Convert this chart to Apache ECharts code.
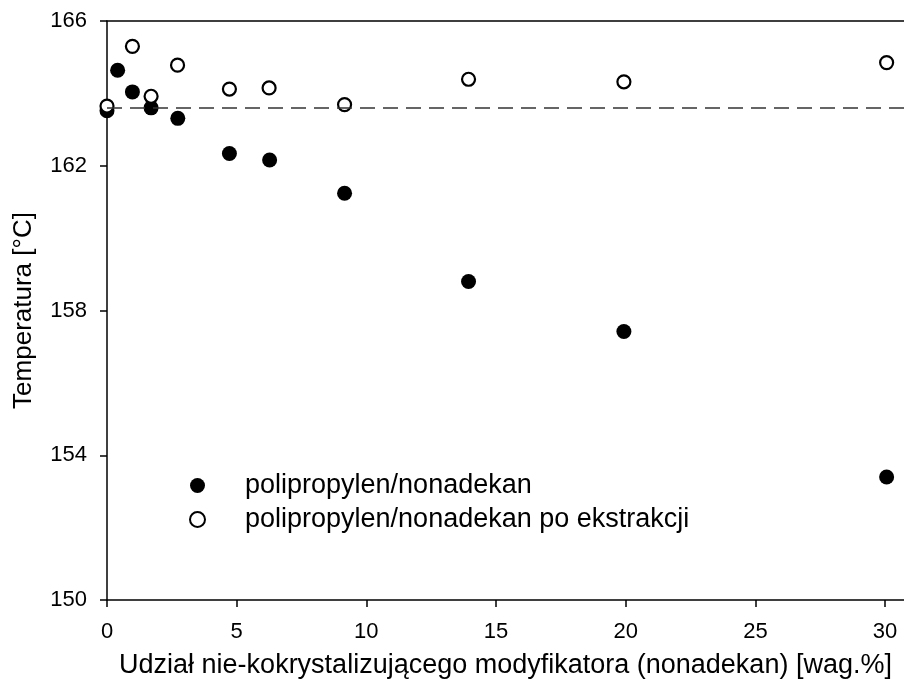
<!DOCTYPE html>
<html>
<head>
<meta charset="utf-8">
<script src="https://cdn.jsdelivr.net/npm/echarts@6/dist/echarts.min.js"></script>
<style>html,body{margin:0;padding:0;background:#fff}#c{width:904px;height:684px}</style>
</head>
<body>
<div id="c"></div>
<script>
const seriesNames = ['polipropylen/nonadekan', 'polipropylen/nonadekan po ekstrakcji'];
const xFilled = [0, 0.41, 0.98, 1.70, 2.73, 4.72, 6.27, 9.16, 13.94, 19.93, 30.06];
const yFilled = [163.52, 164.64, 164.04, 163.60, 163.31, 162.34, 162.16, 161.24, 158.80, 157.42, 153.40];
const xOpen = [0, 0.98, 1.70, 2.72, 4.72, 6.25, 9.16, 13.94, 19.93, 30.06];
const yOpen = [163.65, 165.30, 163.92, 164.78, 164.12, 164.15, 163.69, 164.39, 164.32, 164.85];
const xTicks = [0, 5, 10, 15, 20, 25, 30];
const yTicks = [150, 154, 158, 162, 166];
const refLine = 163.6;
const xTitle = 'Udział nie-kokrystalizującego modyfikatora (nonadekan) [wag.%]';
const yTitle = 'Temperatura [°C]';

const FONT = 'Liberation Sans, Arial, sans-serif';
const chart = echarts.init(document.getElementById('c'), null, {renderer: 'canvas'});
const zip = (xs, ys) => xs.map((x, i) => [x, ys[i]]);

chart.setOption({
  animation: false,
  backgroundColor: '#fff',
  grid: {left: 107, right: 0, top: 21, bottom: 83, containLabel: false},
  legend: {
    orient: 'vertical', left: 184, top: 467, itemWidth: 15, itemHeight: 15, itemGap: 7,
    data: seriesNames,
    textStyle: {fontFamily: FONT, fontSize: 27, color: '#000', padding: [0, 0, 0, 35]}
  },
  xAxis: [{
    type: 'value', min: 0, max: 30.73, interval: 5,
    name: xTitle, nameLocation: 'middle', nameGap: 52,
    nameTextStyle: {fontFamily: FONT, fontSize: 27, color: '#000'},
    axisLine: {show: true, lineStyle: {color: '#000', width: 1.5}},
    axisTick: {show: true, inside: false, length: 7, lineStyle: {color: '#000', width: 1.5}, customValues: xTicks},
    axisLabel: {fontFamily: FONT, fontSize: 22, color: '#000', margin: 21, customValues: xTicks},
    splitLine: {show: false}
  }, {
    type: 'value', position: 'top', min: 0, max: 30.73,
    axisLine: {show: true, lineStyle: {color: '#000', width: 1.5}},
    axisTick: {show: false}, axisLabel: {show: false}, splitLine: {show: false}
  }],
  yAxis: {
    type: 'value', min: 150, max: 166, interval: 4,
    name: yTitle, nameLocation: 'middle', nameGap: 70, nameRotate: 90,
    nameTextStyle: {fontFamily: FONT, fontSize: 26, color: '#000'},
    axisLine: {show: true, lineStyle: {color: '#000', width: 1.5}},
    axisTick: {show: true, inside: false, length: 7, lineStyle: {color: '#000', width: 1.5}, customValues: yTicks},
    axisLabel: {fontFamily: FONT, fontSize: 22, color: '#000', margin: 20, customValues: yTicks},
    splitLine: {show: false}
  },
  series: [{
    name: seriesNames[0], type: 'scatter', symbol: 'circle', symbolSize: 15,
    data: zip(xFilled, yFilled),
    itemStyle: {color: '#000', opacity: 1},
    z: 3,
    markLine: {
      silent: true, symbol: 'none', label: {show: false},
      lineStyle: {color: '#333', width: 1.5, type: [15, 8]},
      data: [{yAxis: refLine}]
    }
  }, {
    name: seriesNames[1], type: 'scatter', symbol: 'circle', symbolSize: 13,
    data: zip(xOpen, yOpen),
    itemStyle: {color: '#fff', borderColor: '#000', borderWidth: 2.2, opacity: 1},
    z: 4
  }]
});
</script>
</body>
</html>
